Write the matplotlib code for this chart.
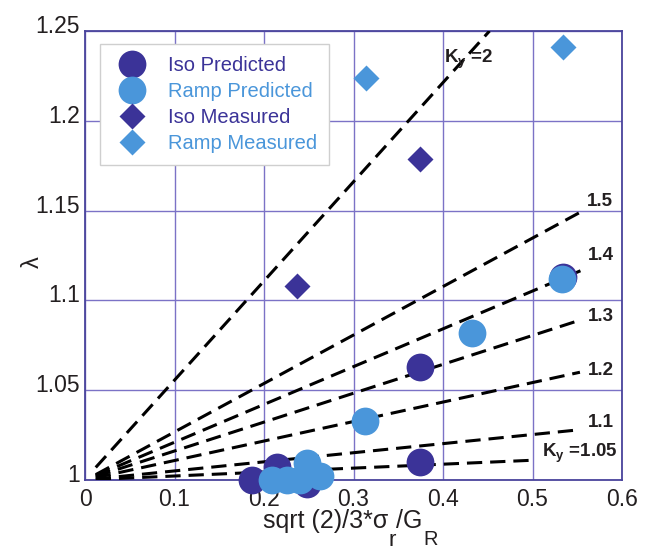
import matplotlib
matplotlib.use("Agg")
import matplotlib.pyplot as plt
from matplotlib.transforms import ScaledTranslation

plt.rcParams['font.family'] = ['Liberation Sans', 'DejaVu Sans']
plt.rcParams['mathtext.fontset'] = 'custom'
plt.rcParams['mathtext.rm'] = 'Liberation Sans'
plt.rcParams['mathtext.it'] = 'Liberation Sans:italic'
plt.rcParams['mathtext.bf'] = 'Liberation Sans:bold'
plt.rcParams['mathtext.default'] = 'regular'

# ---- data ----
iso_pred_x = [0.187, 0.214, 0.248, 0.374, 0.374, 0.534]
iso_pred_y = [1.000, 1.007, 0.998, 1.010, 1.063, 1.113]

ramp_pred_x = [0.209, 0.226, 0.240, 0.248, 0.263, 0.313, 0.432, 0.533]
ramp_pred_y = [1.000, 1.000, 1.000, 1.0095, 1.002, 1.033, 1.082, 1.112]

iso_meas_x = [0.237, 0.374]
iso_meas_y = [1.108, 1.179]

ramp_meas_x = [0.314, 0.534]
ramp_meas_y = [1.224, 1.241]

# K_y reference lines: start and end points
ky_values = ['2', '1.5', '1.4', '1.3', '1.2', '1.1', '1.05']
line_x0 = [0.012, 0.012, 0.012, 0.012, 0.012, 0.012, 0.012]
line_y0 = [1.007, 1.003, 1.0025, 1.002, 1.0013, 1.0006, 1.0003]
line_x1 = [0.452, 0.553, 0.556, 0.553, 0.553, 0.553, 0.500]
line_y1 = [1.250, 1.149, 1.117, 1.089, 1.060, 1.028, 1.011]

label_text = [r'$\mathbf{K}_{\mathbf{y}}$ =2', '1.5', '1.4', '1.3', '1.2', '1.1',
              r'$\mathbf{K}_{\mathbf{y}}$ =1.05']
label_x = [0.401, 0.561, 0.562, 0.562, 0.562, 0.562, 0.511]
label_y = [1.234, 1.155, 1.125, 1.091, 1.061, 1.032, 1.015]

xticks = [0, 0.1, 0.2, 0.3, 0.4, 0.5, 0.6]
xtick_labels = ['0', '0.1', '0.2', '0.3', '0.4', '0.5', '0.6']
yticks = [1.0, 1.05, 1.1, 1.15, 1.2, 1.25]
ytick_labels = ['1', '1.05', '1.1', '1.15', '1.2', '1.25']

dark = '#3b3398'
light = '#4a96da'
gridc = '#7b72c6'
framec = '#4a449c'
textc = '#231f20'

fig = plt.figure(figsize=(6.47, 5.52), dpi=100)
ax = fig.add_axes([85/647, 1-480/552, 537/647, 449/552])

for x0, y0, x1, y1 in zip(line_x0, line_y0, line_x1, line_y1):
    ax.plot([x0, x1], [y0, y1], color='black', lw=2.2, dashes=(5, 2.6),
            solid_capstyle='butt', dash_capstyle='butt', zorder=3)

for t, x, y in zip(label_text, label_x, label_y):
    ax.text(x, y, t, fontsize=13.5, fontweight='bold', color=textc,
            ha='left', va='center', zorder=6)

ax.plot(iso_pred_x, iso_pred_y, 'o', ms=20, color=dark, mec='none',
        label='Iso Predicted', zorder=4, clip_on=False)
ax.plot(ramp_pred_x, ramp_pred_y, 'o', ms=20, color=light, mec='none',
        label='Ramp Predicted', zorder=4, clip_on=False)
ax.plot(iso_meas_x, iso_meas_y, 'D', ms=13.5, color=dark, mec='none',
        label='Iso Measured', zorder=4)
ax.plot(ramp_meas_x, ramp_meas_y, 'D', ms=13.5, color=light, mec='none',
        label='Ramp Measured', zorder=4)

ax.set_xlim(0, 0.6)
ax.set_ylim(1.0, 1.25)
ax.set_xticks(xticks)
ax.set_xticklabels(xtick_labels)
ax.set_yticks(yticks)
ax.set_yticklabels(ytick_labels)
ax.tick_params(length=0, labelsize=16.5, colors=textc)
ax.tick_params(axis='x', pad=6)
ax.tick_params(axis='y', pad=3.5)
for lab in ax.get_yticklabels():
    lab.set_transform(lab.get_transform() + ScaledTranslation(0, 5/72, fig.dpi_scale_trans))
ax.grid(True, color=gridc, lw=1.0)
ax.set_axisbelow(True)
for s in ax.spines.values():
    s.set_color(framec)
    s.set_linewidth(1.3)

# x label built from pieces so the subscripts stay large
xl_size = 18
p1 = ax.annotate('sqrt (2)/3*σ', xy=(263, 24), xycoords='figure pixels',
                 fontsize=xl_size, color=textc, ha='left', va='baseline',
                 annotation_clip=False)
p2 = ax.annotate('r', xy=(1, 0), xycoords=p1, xytext=(0, 2),
                 textcoords='offset points', fontsize=xl_size * 0.9, color=textc,
                 ha='left', va='top', annotation_clip=False)
p3 = ax.annotate('/G', xy=(1, 0), xycoords=(p2, p1), xytext=(0, 0),
                 textcoords='offset points', fontsize=xl_size, color=textc,
                 ha='left', va='bottom', annotation_clip=False)
p4 = ax.annotate('R', xy=(1, 0), xycoords=p3, xytext=(1, 2),
                 textcoords='offset points', fontsize=xl_size * 0.8, color=textc,
                 ha='left', va='top', annotation_clip=False)

ax.set_ylabel('λ', fontsize=17, color=textc)
ax.yaxis.set_label_coords(-(85 - 44) / 537, 0.485)

leg = ax.legend(loc='upper left', bbox_to_anchor=(0.028, 0.971),
                borderaxespad=0, fontsize=14.5, frameon=True, fancybox=False,
                edgecolor='#cfcfcf', framealpha=1, handlelength=2.0,
                handletextpad=0.75, borderpad=0.6, labelspacing=0.35,
                numpoints=1)
leg.get_frame().set_linewidth(1.0)
for txt, c in zip(leg.get_texts(), [dark, light, dark, light]):
    txt.set_color(c)

fig.savefig('out.png', dpi=100)
